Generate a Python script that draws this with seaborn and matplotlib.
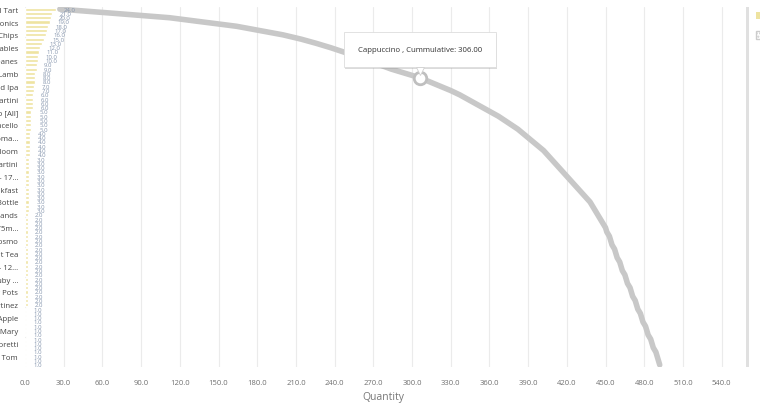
import matplotlib
matplotlib.use('Agg')
import matplotlib.pyplot as plt
import matplotlib.patheffects as pe
from matplotlib.patches import Rectangle, Patch
from matplotlib.transforms import offset_copy
import numpy as np
import pandas as pd
import seaborn as sns

categories = [
    'Salted Caramel Tart', 'House Lager', 'Pale Ale', 'Premium Gin Tonics', 'Americano',
    'Latte', 'Chunky Chips', 'Flat White', 'Orange Juice', 'Seasonal Vegetables',
    'Diet Coke', 'Sparkling Water', 'Mini Champanes', 'Coca Cola', 'Still Water',
    'Slow Roast Lamb', 'Cappuccino', 'English Breakfast Tea', 'Session Cloud Ipa', 'Lemonade',
    'Guinness', 'Pornstar Martini', 'Aperol Spritz', 'Hot Chocolate', 'Soup [All]',
    'Apple Juice', 'Mocha', 'Limoncello', 'Cider', 'Sticky Toffee Pudding',
    'Pinot Grigio 125ma...', 'Espresso', 'Ginger Beer', 'Gin Bloom', 'Negroni',
    'Old Fashioned', 'French Martini', 'Tonic Water', 'Chocolate Brownie', 'Prosecco - 17...',
    'Mojito', 'Burger', 'Full Breakfast', 'Caesar Salad', 'Green Tea',
    'Merlot Bottle', 'Margarita', 'Daiquiri', 'Helping Hands', 'Fish Cakes',
    'Side Salad', 'Malbec 175m...', 'Kir Royale', 'Chicken Wings', 'Cosmo',
    'Bellini', 'Mushroom Risotto', 'Peppermint Tea', 'Nachos', 'Whisky Sour',
    'Rioja - 12...', 'Cheesecake', 'Mango Sorbet', 'Port Ruby ...', 'Garlic Bread',
    'Olives', 'Honey Pots', 'Sauvignon Blanc', 'Irish Coffee', 'Martinez',
    'Sidecar', 'Eton Mess', 'Toffee Apple', 'Chai Latte', 'Tomato Juice',
    'Bloody Mary', 'Amaretto', 'Cranberry Juice', 'Birra Moretti', 'Gimlet',
    'Affogato', 'Royal Tom', 'Americano Decaf', 'Sambuca',
]

quantity = [24, 21, 20, 19, 18, 17, 16, 15, 13, 12,
            11, 10, 10, 9, 9, 8, 8, 8, 7, 7,
            6, 6, 6, 6, 5, 5, 5, 5, 5, 4,
            4, 4, 4, 4, 4, 3, 3, 3, 3, 3,
            3, 3, 3, 3, 3, 3, 3, 3, 2, 2,
            2, 2, 2, 2, 2, 2, 2, 2, 2, 2,
            2, 2, 2, 2, 2, 2, 2, 2, 2, 2,
            1, 1, 1, 1, 1, 1, 1, 1, 1, 1,
            1, 1, 1, 1]

cumulative = [27, 70, 112, 138, 164, 182, 200, 214, 226, 237,
              247, 257, 266, 275, 284, 295, 306, 314, 322, 330,
              337, 343, 349, 355, 361, 367, 372, 377, 382, 386,
              390, 394, 398, 402, 405, 408, 411, 414, 417, 420,
              423, 426, 429, 432, 435, 438, 440, 442, 444, 446,
              448, 450, 451, 453, 454, 455, 457, 458, 459, 461,
              462, 463, 465, 466, 467, 469, 470, 471, 473, 474,
              475, 477, 478, 479, 481, 482, 483, 485, 486, 487,
              489, 490, 491, 492]

xticks = np.arange(0, 541, 30)
highlight = 'Cappuccino'

df = pd.DataFrame({'Item': categories, 'Quantity': quantity, 'Cumulative': cumulative})
df['pos'] = np.arange(len(df))

sns.set_theme(style='white')
plt.rcParams['font.family'] = ['Open Sans', 'DejaVu Sans']

fig = plt.figure(figsize=(7.6, 4.1), dpi=100)
ax = fig.add_axes([25 / 760, 42 / 410, 716 / 760, 360 / 410])

sns.barplot(data=df, y='Item', x='Quantity', color='#eee3a0', saturation=1,
            width=0.72, orient='h', ax=ax)

# data labels next to each bar
for p, v in zip(df['pos'], df['Quantity']):
    ax.annotate(f'{v:.1f}', (v, p), xytext=(5.5, 0), textcoords='offset points',
                fontsize=4.3, color='#8595ad', va='center', ha='left')

# cumulative line
sns.lineplot(x=df['Cumulative'], y=df['pos'], sort=False, estimator=None,
             color='#c8c8c8', lw=4.0, ax=ax)

h = df[df['Item'] == highlight].iloc[0]
ax.plot(h['Cumulative'], h['pos'], 'o', ms=9, mfc='white', mec='#bfbfbf', mew=2, zorder=5)
t = ax.annotate(f"{highlight} , Cummulative: {h['Cumulative']:.2f}",
                (h['Cumulative'], h['pos']), xytext=(0, 20), textcoords='offset points',
                ha='center', va='center', fontsize=5.6, color='#333333',
                bbox=dict(boxstyle='square,pad=1.8', fc='white', ec='#dddddd', lw=0.6),
                zorder=6)
t.get_bbox_patch().set_path_effects([pe.withSimplePatchShadow(offset=(0.8, -1.2),
                                                              shadow_rgbFace='#999999', alpha=0.35)])
# tooltip pointer
ptr = offset_copy(ax.transData, fig=fig, x=0, y=5.0, units='points')
ax.plot(h['Cumulative'], h['pos'], 'v', ms=6.0, mfc='white', mec='#d0d0d0', mew=0.6,
        transform=ptr, zorder=7)

ax.set_xlim(0, 555)
ax.set_ylim(len(df) - 0.5, -0.5)
ax.set_xticks(xticks)
ax.set_xticklabels([f'{x:.1f}' for x in xticks])
ax.set_yticks(df['pos'][::3])
ax.set_yticklabels(df['Item'][::3])
ax.tick_params(axis='x', labelsize=5.5, labelcolor='#707070', length=0, pad=9)
ax.tick_params(axis='y', labelsize=5.6, labelcolor='#444444', length=0, pad=5)
ax.xaxis.grid(True, color='#ebebeb', lw=0.8)
ax.set_axisbelow(True)
for s in ax.spines.values():
    s.set_visible(False)
ax.set_xlabel('')
ax.set_ylabel('')

fig.text(383 / 760, 1 - 398 / 410, 'Quantity', fontsize=7.5, color='#777777',
         ha='center', va='center')

# scroll bar at right edge
fig.add_artist(Rectangle((746 / 760, 42 / 410), 3 / 760, 360 / 410,
                         transform=fig.transFigure, color='#e0e0e0', lw=0))

handles = [Patch(fc='#eee3a0', ec='none'), Patch(fc='white', ec='#cccccc', hatch='.....')]
fig.legend(handles, ['Quantity', 'Cummulative'], loc='upper left',
           bbox_to_anchor=(756 / 760, 1 - 13 / 410), frameon=False, fontsize=6,
           handlelength=1.0, handleheight=1.0, borderaxespad=0, borderpad=0,
           labelspacing=1.3)

fig.savefig('out.png', dpi=100)
